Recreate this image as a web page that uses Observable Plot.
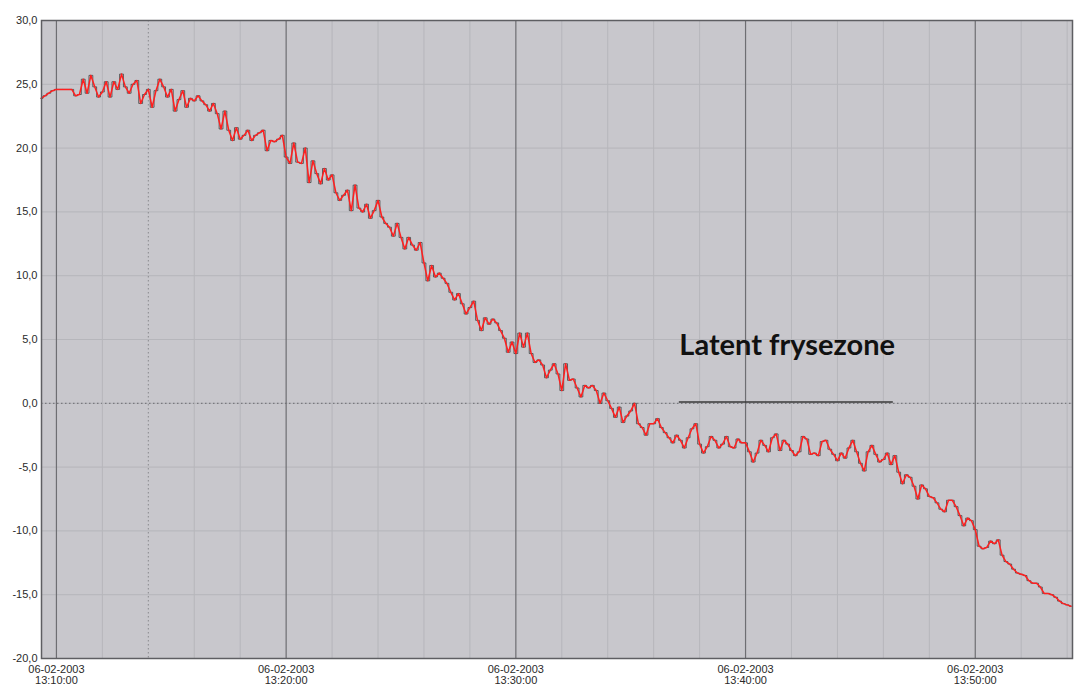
<!DOCTYPE html>
<html>
<head>
<meta charset="utf-8">
<script src="https://cdn.jsdelivr.net/npm/d3@7"></script>
<script src="https://cdn.jsdelivr.net/npm/@observablehq/plot@0.6"></script>
<style>
  html, body { margin: 0; padding: 0; background: #ffffff; }
  #chart { width: 1084px; height: 696px; }
</style>
</head>
<body>
<div id="chart"></div>
<script>
// Temperature log, 06-02-2003, one reading every 10 seconds from 13:09:20
const logDate = [2003, 1, 6];          // year, month index, day (UTC)
const firstReading = "13:09:20";
const sampleSeconds = 10;
const temperatures = [
  // 13:09:20 – 13:09:50
  23.9, 24.1, 24.3, 24.5,
  // 13:10
  24.6, 24.6, 24.6, 24.6, 24.6, 24.1,
  24.2, 25.4, 24.3, 25.7, 24.8, 24.0,
  24.4, 25.2, 24.0, 25.2, 24.6, 25.8,
  24.8, 24.3, 25.0, 25.3, 23.5, 24.2,
  24.6, 23.2, 24.5, 25.4, 24.8, 24.0,
  24.6, 22.9, 23.8, 24.5, 23.2, 23.9,
  23.7, 24.1, 23.7, 23.4, 22.9, 23.5,
  22.7, 21.5, 22.9, 21.4, 20.6, 21.6,
  20.7, 21.0, 21.4, 20.6, 21.0, 21.2,
  21.4, 19.8, 20.6, 20.5, 20.7, 21.0,
  // 13:20
  19.3, 18.8, 20.4, 18.9, 18.8, 20.0,
  17.3, 19.0, 18.0, 17.2, 18.4, 17.5,
  17.9, 16.5, 15.9, 16.3, 16.7, 15.1,
  17.1, 15.3, 15.0, 15.6, 14.5, 15.1,
  15.9, 14.6, 14.1, 13.8, 13.1, 14.1,
  13.0, 12.1, 13.0, 12.4, 12.0, 12.6,
  11.0, 9.6, 10.8, 9.9, 10.2, 9.8,
  9.4, 8.7, 8.1, 8.6, 7.8, 7.0,
  7.5, 8.0, 6.5, 5.7, 6.7, 6.2,
  6.6, 6.3, 5.7, 5.1, 4.0, 4.8,
  // 13:30
  3.9, 5.5, 4.4, 5.5, 3.9, 3.2,
  3.4, 3.0, 2.0, 2.6, 3.1, 2.3,
  1.0, 3.1, 1.8, 1.9, 1.2, 0.5,
  1.4, 1.2, 1.4, 1.0, 0.0, 0.8,
  0.2, -0.4, -1.1, -0.3, -1.5, -1.0,
  -0.6, 0.0, -1.6, -1.9, -2.5, -1.6,
  -1.6, -1.2, -1.9, -2.3, -2.7, -3.1,
  -2.5, -2.9, -3.5, -2.7, -2.0, -1.6,
  -3.2, -3.9, -3.4, -2.6, -2.9, -3.5,
  -3.2, -2.6, -3.4, -3.5, -2.8, -3.1,
  // 13:40
  -3.1, -3.8, -4.6, -3.9, -2.9, -3.3,
  -3.8, -2.7, -2.4, -3.7, -2.9, -3.2,
  -3.7, -4.1, -3.8, -2.6, -2.8, -4.0,
  -3.9, -4.1, -3.0, -2.9, -3.6, -4.0,
  -4.5, -3.9, -4.3, -3.5, -2.9, -3.8,
  -4.7, -5.3, -3.8, -3.3, -4.0, -4.6,
  -4.4, -3.9, -4.8, -4.1, -5.4, -6.3,
  -5.6, -5.8, -6.5, -7.5, -6.4, -6.7,
  -7.3, -7.4, -7.8, -8.3, -8.5, -7.6,
  -7.6, -8.1, -8.8, -9.6, -9.0, -9.2,
  // 13:50
  -9.9, -11.2, -11.4, -11.3, -10.8, -11.0,
  -10.7, -11.9, -12.4, -12.6, -13.0, -13.3,
  -13.4, -13.5, -13.9, -14.1, -14.1, -14.4,
  -14.9, -14.9, -15.0, -15.2, -15.5, -15.7,
  -15.8, -15.9
];

// Axis ticks and grid
const yTicks = [-20, -15, -10, -5, 0, 5, 10, 15, 20, 25, 30];
const xMajorTicks = ["13:10:00", "13:20:00", "13:30:00", "13:40:00", "13:50:00"];
const xMinorTicks = ["13:12:00", "13:16:00", "13:18:00", "13:22:00", "13:24:00", "13:26:00", "13:28:00",
  "13:32:00", "13:34:00", "13:36:00", "13:38:00", "13:42:00", "13:44:00", "13:46:00", "13:48:00",
  "13:52:00", "13:54:00"];
const xMarkerTicks = ["13:14:00"];
const xDomain = ["13:09:21", "13:54:14"];
const yDomain = [-20, 30];

// Latent freezing zone annotation
const zoneLabel = "Latent frysezone";
const zoneStart = "13:37:07";
const zoneEnd = "13:46:26";
const zoneLevel = 0.1;
const zoneLabelLevel = 4.5;

const at = (hms) => {
  const [h, m, s] = hms.split(":").map(Number);
  return new Date(Date.UTC(logDate[0], logDate[1], logDate[2], h, m, s));
};
const t0 = at(firstReading).getTime();
const readings = temperatures.map((temp, i) => ({
  time: new Date(t0 + i * sampleSeconds * 1000),
  temp
}));

const fmtDate = d3.utcFormat("%d-%m-%Y");
const fmtTime = d3.utcFormat("%H:%M:%S");
const fmtNum = (v) => v.toFixed(1).replace(".", ",");

const chart = Plot.plot({
  width: 1084,
  height: 696,
  marginLeft: 41,
  marginRight: 12,
  marginTop: 20,
  marginBottom: 38,
  style: { fontFamily: "Liberation Sans, Arial, sans-serif", fontSize: "11px", color: "#2a2a2a", background: "#ffffff" },
  x: { type: "utc", domain: xDomain.map(at), label: null },
  y: { domain: yDomain, label: null },
  marks: [
    Plot.frame({ fill: "#c8c7cc", stroke: "none" }),
    // grid
    Plot.ruleY(yTicks, { stroke: "#b6b6bb", strokeWidth: 1 }),
    Plot.ruleY([0], { stroke: "#6a6a6e", strokeWidth: 1, strokeDasharray: "1.5,2.5" }),
    Plot.ruleX(xMinorTicks.map(at), { stroke: "#b6b6bb", strokeWidth: 1 }),
    Plot.ruleX(xMarkerTicks.map(at), { stroke: "#8a8a8e", strokeWidth: 1, strokeDasharray: "1.5,2.5" }),
    Plot.ruleX(xMajorTicks.map(at), { stroke: "#6e6e72", strokeWidth: 1.2 }),
    // axes
    Plot.axisY(yTicks, { tickSize: 0, tickPadding: 4, tickFormat: fmtNum, fill: "#2a2a2a", label: null }),
    Plot.axisX(xMajorTicks.map(at), {
      tickSize: 0, tickPadding: 7, fill: "#2a2a2a", label: null,
      tickFormat: (d) => fmtDate(d) + "\n" + fmtTime(d)
    }),
    // temperature trace: dark reference trace beneath the red one
    Plot.line(readings, { x: "time", y: "temp", stroke: "#3a3a3a", strokeOpacity: 0.75, strokeWidth: 1, curve: "step" }),
    Plot.line(readings, { x: "time", y: "temp", stroke: "#ff1f1f", strokeWidth: 1.5 }),
    // annotation
    Plot.ruleY([zoneLevel], { x1: at(zoneStart), x2: at(zoneEnd), stroke: "#3a3a3a", strokeWidth: 1.3 }),
    Plot.text([zoneLabel], {
      x: at(zoneStart), y: zoneLabelLevel, text: (d) => d, textAnchor: "start",
      fontFamily: "Lato, sans-serif", fontWeight: "bold", fontSize: 29, fill: "#111111"
    }),
    Plot.frame({ stroke: "#5e5e62", strokeWidth: 1.5 })
  ]
});

document.getElementById("chart").appendChild(chart);
</script>
</body>
</html>
